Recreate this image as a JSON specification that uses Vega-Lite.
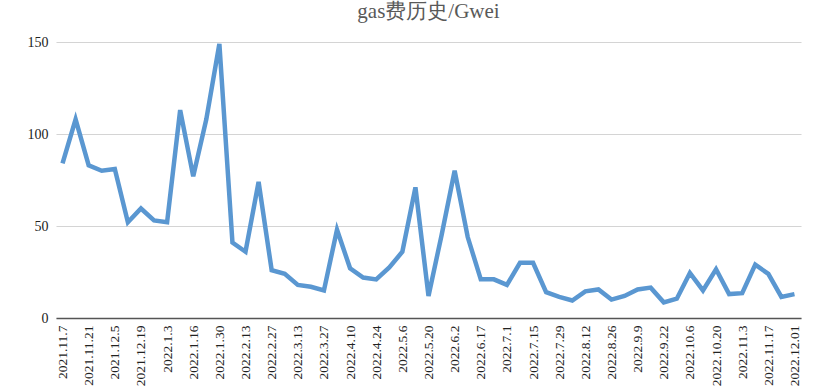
{
  "$schema": "https://vega.github.io/schema/vega-lite/v6.json",
  "width": 745,
  "height": 276,
  "autosize": {"type": "none"},
  "padding": {"left": 56, "top": 42, "right": 29, "bottom": 70},
  "background": "white",
  "title": {
    "text": "gas费历史/Gwei",
    "font": "Liberation Serif",
    "fontSize": 21,
    "fontWeight": "normal",
    "color": "#595959",
    "anchor": "middle",
    "offset": 13
  },
  "data": {
    "values": [
      {"date": "2021.11.7", "gwei": 84},
      {"date": "2021.11.14", "gwei": 108},
      {"date": "2021.11.21", "gwei": 83},
      {"date": "2021.11.28", "gwei": 80},
      {"date": "2021.12.5", "gwei": 81},
      {"date": "2021.12.12", "gwei": 52},
      {"date": "2021.12.19", "gwei": 59.5},
      {"date": "2021.12.26", "gwei": 53},
      {"date": "2022.1.3", "gwei": 52},
      {"date": "2022.1.9", "gwei": 113},
      {"date": "2022.1.16", "gwei": 77},
      {"date": "2022.1.23", "gwei": 108},
      {"date": "2022.1.30", "gwei": 149},
      {"date": "2022.2.6", "gwei": 41},
      {"date": "2022.2.13", "gwei": 36},
      {"date": "2022.2.20", "gwei": 74},
      {"date": "2022.2.27", "gwei": 26},
      {"date": "2022.3.6", "gwei": 24},
      {"date": "2022.3.13", "gwei": 18},
      {"date": "2022.3.20", "gwei": 17},
      {"date": "2022.3.27", "gwei": 15},
      {"date": "2022.4.3", "gwei": 48},
      {"date": "2022.4.10", "gwei": 27},
      {"date": "2022.4.17", "gwei": 22},
      {"date": "2022.4.24", "gwei": 21},
      {"date": "2022.5.1", "gwei": 27.5},
      {"date": "2022.5.6", "gwei": 36},
      {"date": "2022.5.13", "gwei": 71},
      {"date": "2022.5.20", "gwei": 12},
      {"date": "2022.5.27", "gwei": 45},
      {"date": "2022.6.2", "gwei": 80},
      {"date": "2022.6.10", "gwei": 44},
      {"date": "2022.6.17", "gwei": 21},
      {"date": "2022.6.24", "gwei": 21},
      {"date": "2022.7.1", "gwei": 18},
      {"date": "2022.7.8", "gwei": 30},
      {"date": "2022.7.15", "gwei": 30},
      {"date": "2022.7.22", "gwei": 14},
      {"date": "2022.7.29", "gwei": 11.5},
      {"date": "2022.8.5", "gwei": 9.5},
      {"date": "2022.8.12", "gwei": 14.5},
      {"date": "2022.8.19", "gwei": 15.5},
      {"date": "2022.8.26", "gwei": 10},
      {"date": "2022.9.2", "gwei": 12},
      {"date": "2022.9.9", "gwei": 15.5},
      {"date": "2022.9.16", "gwei": 16.5},
      {"date": "2022.9.22", "gwei": 8.5},
      {"date": "2022.9.29", "gwei": 10.5},
      {"date": "2022.10.6", "gwei": 24.5},
      {"date": "2022.10.13", "gwei": 15},
      {"date": "2022.10.20", "gwei": 26.5},
      {"date": "2022.10.27", "gwei": 13},
      {"date": "2022.11.3", "gwei": 13.5},
      {"date": "2022.11.10", "gwei": 29},
      {"date": "2022.11.17", "gwei": 24},
      {"date": "2022.11.24", "gwei": 11.5},
      {"date": "2022.12.01", "gwei": 13}
    ]
  },
  "mark": {
    "type": "line",
    "color": "#5a97d1",
    "strokeWidth": 4.5,
    "strokeJoin": "miter",
    "strokeCap": "butt"
  },
  "encoding": {
    "x": {
      "field": "date",
      "type": "ordinal",
      "sort": null,
      "scale": {"type": "point", "padding": 0.5},
      "axis": {
        "title": null,
        "values": ["2021.11.7", "2021.11.21", "2021.12.5", "2021.12.19", "2022.1.3", "2022.1.16", "2022.1.30", "2022.2.13", "2022.2.27", "2022.3.13", "2022.3.27", "2022.4.10", "2022.4.24", "2022.5.6", "2022.5.20", "2022.6.2", "2022.6.17", "2022.7.1", "2022.7.15", "2022.7.29", "2022.8.12", "2022.8.26", "2022.9.9", "2022.9.22", "2022.10.6", "2022.10.20", "2022.11.3", "2022.11.17", "2022.12.01"],
        "labelAngle": -90,
        "labelFont": "Liberation Serif",
        "labelFontSize": 13.5,
        "labelColor": "#222222",
        "labelPadding": 7,
        "ticks": false,
        "grid": false,
        "domainColor": "#555555",
        "domainWidth": 1.5,
        "labelOverlap": false
      }
    },
    "y": {
      "field": "gwei",
      "type": "quantitative",
      "scale": {"domain": [0, 150], "nice": false},
      "axis": {
        "title": null,
        "values": [0, 50, 100, 150],
        "labelFont": "Liberation Serif",
        "labelFontSize": 14,
        "labelColor": "#222222",
        "labelPadding": 8,
        "ticks": false,
        "domain": false,
        "gridColor": "#d4d4d4",
        "gridWidth": 1.2
      }
    }
  },
  "config": {
    "view": {"stroke": null}
  }
}
